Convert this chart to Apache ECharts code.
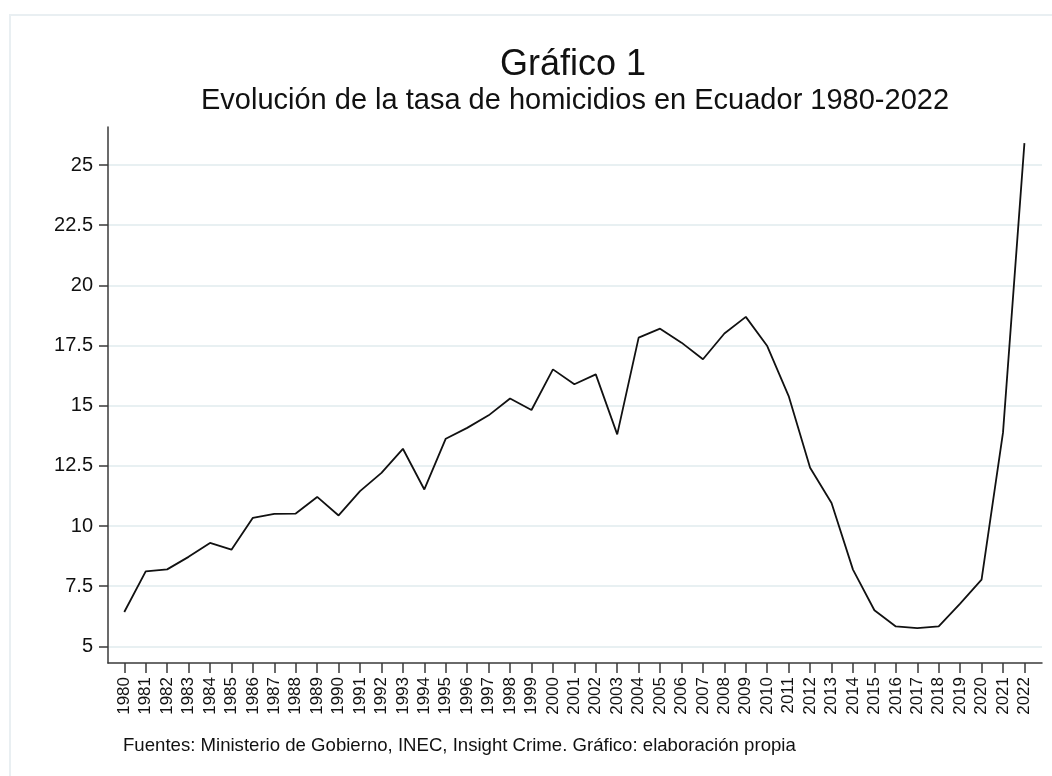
<!DOCTYPE html>
<html lang="es">
<head>
    <meta charset="UTF-8">
    <title>Gráfico 1</title>
    <script src="https://cdn.jsdelivr.net/npm/echarts@6/dist/echarts.min.js"></script>
    <style>
        body {
            margin: 0;
            padding: 0;
            background-color: #ffffff;
            overflow: hidden;
        }
        .frame {
            position: absolute;
            left: 9px;
            top: 14px;
            width: 1100px;
            height: 800px;
            border: 2px solid #e9eff2;
        }
        #chart {
            position: absolute;
            left: 0;
            top: 0;
            width: 1052px;
            height: 776px;
        }
    </style>
</head>
<body>
<div class="frame"></div>
<div id="chart"></div>

<script>
    // años y tasa de homicidios (por 100 mil hab.)
    const years = [1980, 1981, 1982, 1983, 1984, 1985, 1986, 1987, 1988, 1989,
        1990, 1991, 1992, 1993, 1994, 1995, 1996, 1997, 1998, 1999,
        2000, 2001, 2002, 2003, 2004, 2005, 2006, 2007, 2008, 2009,
        2010, 2011, 2012, 2013, 2014, 2015, 2016, 2017, 2018, 2019,
        2020, 2021, 2022];
    const tasa = [6.43, 8.12, 8.20, 8.72, 9.30, 9.02, 10.34, 10.51, 10.52, 11.21,
        10.44, 11.45, 12.21, 13.21, 11.52, 13.63, 14.08, 14.60, 15.30, 14.82,
        16.51, 15.89, 16.30, 13.81, 17.83, 18.20, 17.62, 16.93, 18.00, 18.69,
        17.48, 15.40, 12.42, 10.96, 8.19, 6.50, 5.83, 5.76, 5.83, 6.78,
        7.77, 13.88, 25.91];
    const yTicks = [5, 7.5, 10, 12.5, 15, 17.5, 20, 22.5, 25];

    const font = '"Liberation Sans", Arial, sans-serif';
    const axisColor = '#3a3a3a';
    const gridColor = '#e8f0f2';

    const chart = echarts.init(document.getElementById('chart'));

    chart.setOption({
        animation: false,
        backgroundColor: 'transparent',
        textStyle: { fontFamily: font },
        graphic: [
            {
                type: 'text', x: 573, y: 65,
                style: { text: 'Gráfico 1', font: '36px ' + font, fill: '#111', align: 'center', verticalAlign: 'middle' }
            },
            {
                type: 'text', x: 575, y: 101,
                style: { text: 'Evolución de la tasa de homicidios en Ecuador 1980-2022', font: '29px ' + font, fill: '#111', align: 'center', verticalAlign: 'middle' }
            },
            {
                type: 'text', x: 123, y: 746,
                style: { text: 'Fuentes: Ministerio de Gobierno, INEC, Insight Crime. Gráfico: elaboración propia', font: '18.6px ' + font, fill: '#111', align: 'left', verticalAlign: 'middle' }
            }
        ],
        grid: {
            left: 108,
            right: 10,
            top: 127,
            bottom: 113
        },
        xAxis: {
            type: 'value',
            min: 1979.24,
            max: 2022.82,
            axisLine: { show: true, lineStyle: { color: axisColor, width: 1.5 } },
            axisTick: { show: true, length: 10, customValues: years, lineStyle: { color: axisColor, width: 1.5 } },
            axisLabel: {
                customValues: years,
                formatter: v => String(v),
                rotate: 90,
                margin: 14,
                fontSize: 17,
                color: '#111'
            },
            splitLine: { show: false }
        },
        yAxis: {
            type: 'value',
            min: 4.31,
            max: 26.58,
            axisLine: { show: true, lineStyle: { color: axisColor, width: 1.5 } },
            axisTick: { show: true, length: 9, customValues: yTicks, lineStyle: { color: axisColor, width: 1.5 } },
            axisLabel: {
                customValues: yTicks,
                margin: 15,
                fontSize: 20,
                color: '#111'
            },
            splitLine: { show: true, lineStyle: { color: gridColor, width: 2 } }
        },
        series: [{
            type: 'line',
            data: years.map((y, i) => [y, tasa[i]]),
            showSymbol: false,
            lineStyle: { color: '#111', width: 1.8 }
        }]
    });
</script>
</body>
</html>
